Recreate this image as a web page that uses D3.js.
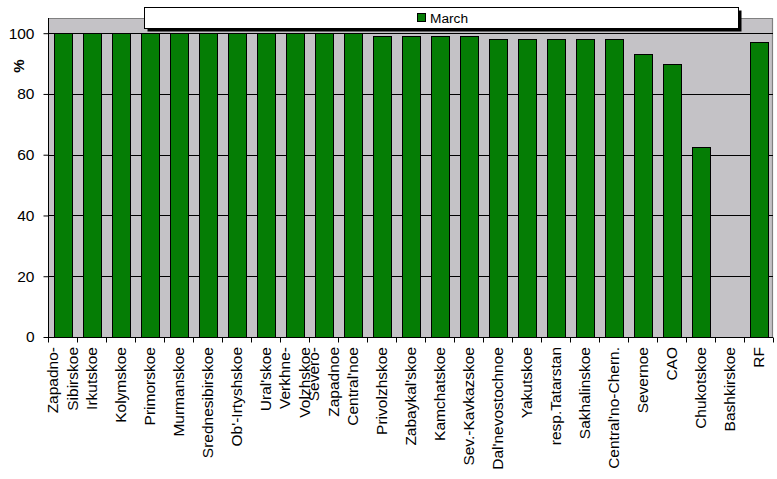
<!DOCTYPE html>
<html><head><meta charset="utf-8">
<script src="https://cdn.jsdelivr.net/npm/d3@7"></script>
<style>body{margin:0;background:#fff}svg{display:block}text{font-family:"Liberation Sans",Arial,sans-serif}</style>
</head><body><svg id="c" width="777" height="479"></svg>
<script>
const categories = ["Zapadno-Sibirskoe","Irkutskoe","Kolymskoe","Primorskoe","Murmanskoe","Srednesibirskoe","Ob'-Irtyshskoe","Ural'skoe","Verkhne-Volzhskoe","Severo-Zapadnoe","Central'noe","Privolzhskoe","Zabaykal'skoe","Kamchatskoe","Sev.-Kavkazskoe","Dal'nevostochnoe","Yakutskoe","resp.Tatarstan","Sakhalinskoe","Central'no-Chern.","Severnoe","CAO","Chukotskoe","Bashkirskoe","RF"];
const wrappedLabels = ["Zapadno-Sibirskoe","Verkhne-Volzhskoe","Severo-Zapadnoe"];
const seriesName = "March";
const march = [100,100,100,100,100,100,100,100,100,100,100,99,99,99,99,98,98,98,98,98,93,90,62.7,0,97];
const yTicks = [0,20,40,60,80,100];

const svg = d3.select("#c");
const m = {l:48, r:773, t:18, b:337};
const x = d3.scaleBand().domain(categories).range([m.l, m.r]).paddingInner(0.38).paddingOuter(0.19);
const xb = d3.scaleBand().domain(categories).range([m.l, m.r]);
const y = d3.scaleLinear().domain([0,105]).range([m.b, m.t]);

// plot background
svg.append("rect").attr("x",m.l).attr("y",m.t).attr("width",m.r-m.l).attr("height",m.b-m.t).attr("fill","#c4c2c6");
svg.append("path").attr("d",`M${m.l},${m.t+0.5}H${m.r-0.5}V${m.b}`).attr("fill","none").attr("stroke","#808080").attr("stroke-width",1.2);

// gridlines
svg.append("g").selectAll("line").data(yTicks.filter(d=>d>0)).join("line")
  .attr("x1",m.l).attr("x2",m.r).attr("y1",d=>Math.round(y(d))+0.5).attr("y2",d=>Math.round(y(d))+0.5)
  .attr("stroke","#000").attr("stroke-width",1);

// bars
svg.append("g").selectAll("rect").data(march.map((v,i)=>({c:categories[i],v}))).join("rect")
  .filter(d=>d.v>0)
  .attr("x",d=>Math.round(x(d.c))+0.5).attr("width",Math.round(x.bandwidth()))
  .attr("y",d=>Math.round(y(d.v))+0.5).attr("height",d=>Math.round(y(0))-Math.round(y(d.v)))
  .attr("fill","#057d05").attr("stroke","#000").attr("stroke-width",1);

// y axis
const ya = svg.append("g").attr("transform",`translate(${m.l+0.5},0)`)
  .call(d3.axisLeft(y).tickValues(yTicks).tickSize(5).tickPadding(9).tickSizeOuter(0));
ya.select(".domain").attr("d",`M0,${m.t}V${m.b+0.5}`).attr("stroke","#000");
ya.selectAll("text").attr("font-size","15.5px").attr("fill","#000").attr("font-family","Liberation Sans, Arial, sans-serif");
ya.selectAll(".tick line").attr("stroke","#000");

// x axis
const xg = svg.append("g").attr("transform",`translate(0,${m.b+0.5})`);
xg.append("line").attr("x1",m.l).attr("x2",m.r).attr("stroke","#000");
xg.selectAll("line.t").data(categories.concat(["__end"])).join("line").attr("class","t")
  .attr("x1",(d,i)=>Math.round(m.l+i*xb.step())+0.5).attr("x2",(d,i)=>Math.round(m.l+i*xb.step())+0.5)
  .attr("y1",0).attr("y2",5).attr("stroke","#000");

const lab = svg.append("g");
categories.forEach(c=>{
  const lines = wrappedLabels.includes(c) ? [c.slice(0,c.indexOf("-")+1), c.slice(c.indexOf("-")+1)] : [c];
  const cx = xb(c)+xb.bandwidth()/2;
  lines.forEach((t,i)=>{
    const off = (i-(lines.length-1)/2)*20 + 5.7;
    lab.append("text").attr("transform",`translate(${cx+off},347) rotate(-90)`)
      .attr("text-anchor","end").attr("font-size","15.5px").attr("fill","#000").text(t);
  });
});

// y label
svg.append("text").attr("transform","translate(24,66) rotate(-90)").attr("text-anchor","middle")
  .attr("font-size","15px").attr("font-weight","bold").text("%");

// legend
const lg = svg.append("g");
lg.append("rect").attr("x",147.5).attr("y",10.5).attr("width",594).attr("height",21).attr("fill","#000");
lg.append("rect").attr("x",144.5).attr("y",7.5).attr("width",594).attr("height",21).attr("fill","#fff").attr("stroke","#000");
lg.append("rect").attr("x",417.5).attr("y",13.5).attr("width",8).attr("height",8).attr("fill","#057d05").attr("stroke","#000");
lg.append("text").attr("x",430).attr("y",22.5).attr("font-size","13.7px").attr("fill","#000").text(seriesName);
</script></body></html>
